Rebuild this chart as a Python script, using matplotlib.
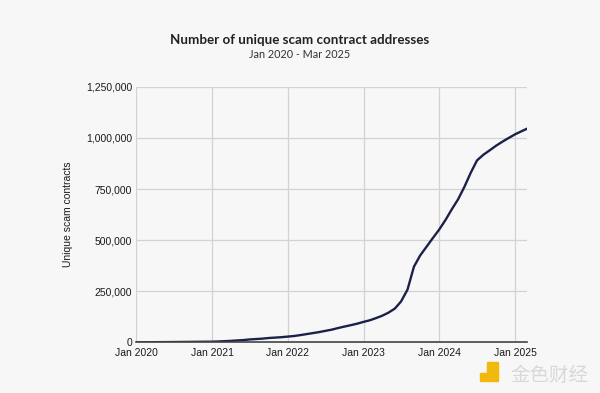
import pandas as pd
import matplotlib.pyplot as plt
import matplotlib.ticker as mticker

# monthly cumulative counts, Jan 2020 - Mar 2025
months = pd.date_range('2020-01-01', '2025-03-01', freq='MS')
counts = [
	0, 200, 400, 600, 800, 1000, 1300, 1600, 1900, 2200, 2500, 2800,
	3000, 4000, 5500, 7000, 9000, 11000, 14000, 16000, 18000, 21000, 23000, 25000,
	28000, 31000, 35000, 40000, 45000, 50000, 56000, 62000, 70000, 77000, 84000, 91000,
	100000, 108000, 118000, 130000, 145000, 165000, 200000, 258000, 370000, 425000, 468000, 510000,
	552000, 600000, 650000, 700000, 760000, 830000, 890000, 918000, 940000, 962000, 982000, 1000000,
	1018000, 1033000, 1046000,
]
x_ticks = pd.date_range('2020-01-01', '2025-01-01', freq='YS')
x_labels = [f"Jan {d.year}" for d in x_ticks]
y_ticks = [0, 250000, 500000, 750000, 1000000, 1250000]

bg = '#f7f7f7'
fig = plt.figure(figsize=(6, 3.93), dpi=100, facecolor=bg)
ax = fig.add_axes([0.227, 0.129, 0.652, 0.65], facecolor=bg)

ax.plot(months, counts, color='#1b2148', lw=1.7, solid_capstyle='round')

ax.set_xlim(months[0], months[-1])
ax.set_ylim(0, 1250000)
ax.set_xticks(x_ticks)
ax.set_xticklabels(x_labels)
ax.set_yticks(y_ticks)
ax.yaxis.set_major_formatter(mticker.FuncFormatter(lambda v, p: f"{int(v):,}"))

ax.grid(True, color='#d2d2d2', lw=0.9)
ax.set_axisbelow(True)
for s in ['top', 'right', 'left']:
	ax.spines[s].set_visible(False)
ax.spines['bottom'].set_color('#444444')
ax.spines['bottom'].set_linewidth(1.2)
ax.tick_params(length=0, labelsize=7.5, colors='#1a1a1a', pad=3, labelfontfamily='Liberation Sans')
ax.tick_params(axis='x', pad=4)

ax.set_ylabel('Unique scam contracts', fontsize=7.5, family='Liberation Sans', color='#1a1a1a', labelpad=9)

fig.text(0.5, 0.889, 'Number of unique scam contract addresses', ha='center', fontsize=9.6,
		 fontweight='bold', family='Lato', color='#222222')
fig.text(0.5, 0.852, 'Jan 2020 - Mar 2025', ha='center', fontsize=7.8, family='Lato', color='#333333')

# watermark
fig.text(0.85, 0.03, '金色财经', fontsize=14, family='Noto Sans CJK SC', color='#d8d8d8')
fig.patches.append(plt.Rectangle((0.812, 0.03), 0.018, 0.05, transform=fig.transFigure,
								 color='#f0b90b', figure=fig))
fig.patches.append(plt.Rectangle((0.8, 0.03), 0.012, 0.02, transform=fig.transFigure,
								 color='#f0b90b', figure=fig))

fig.savefig('out.png', dpi=100, facecolor=bg)
